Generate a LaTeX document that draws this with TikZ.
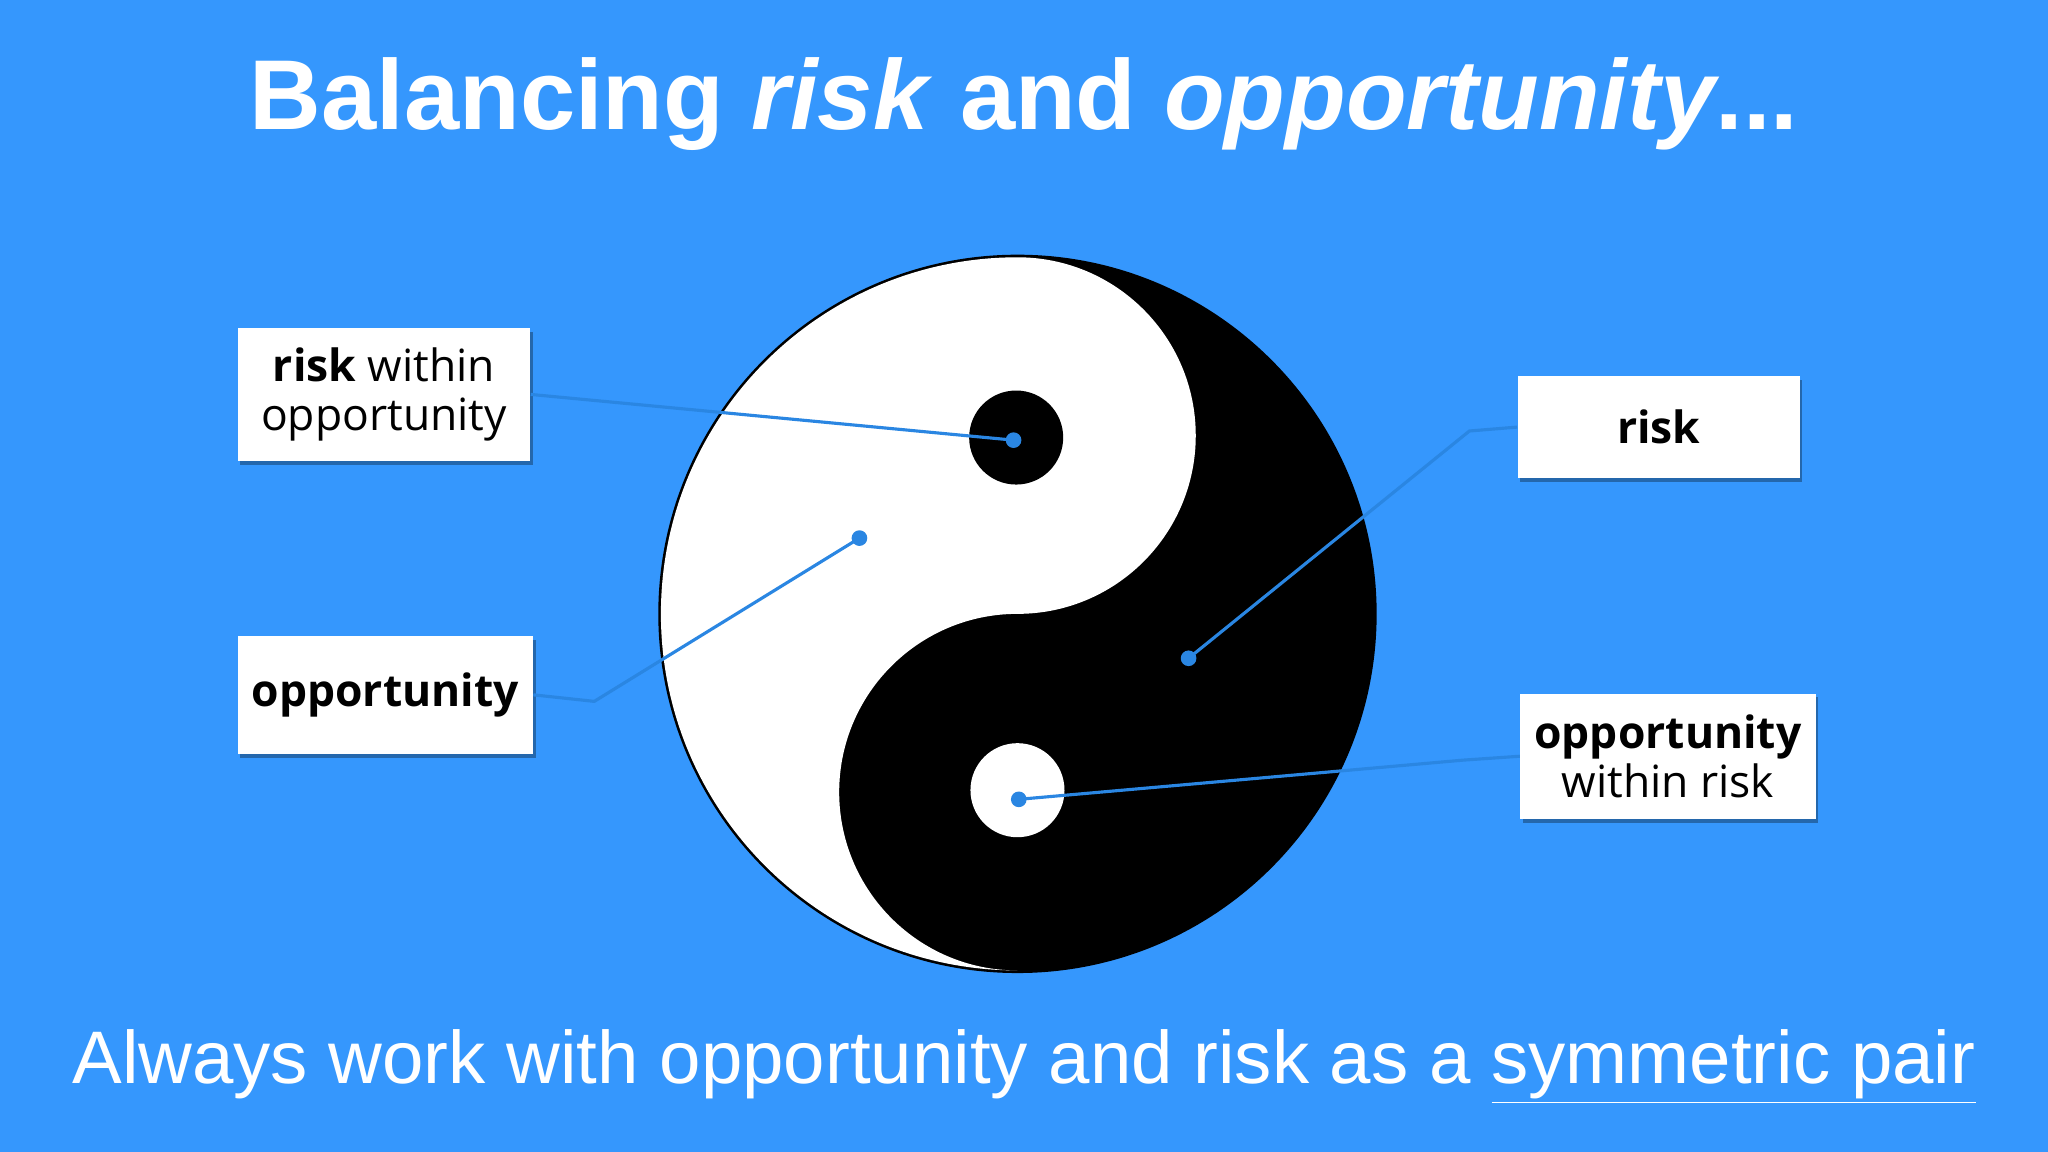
\documentclass[tikz,border=0pt]{standalone}
\usepackage{fontspec}
\usetikzlibrary{shadows}
\setmainfont{Liberation Sans}
\newfontfamily\boxfont{Open Sans}
\definecolor{bg}{HTML}{3597FD}
\definecolor{ln}{HTML}{2A86E2}
\begin{document}
\begin{tikzpicture}[x=0.5pt,y=0.5pt,
  lbl/.style={draw=none,fill=white,align=center,font=\boxfont\fontsize{17}{19}\selectfont,inner sep=0pt,
    drop shadow={shadow xshift=1pt,shadow yshift=-1.5pt,fill=black!40!bg,opacity=0.8}},
  conn/.style={ln,line width=1.2pt},
  pt/.style={circle,fill=ln,inner sep=0pt,minimum size=6pt}]
\fill[bg] (0,0) rectangle (1568,882);
\useasboundingbox (0,0) rectangle (1568,882);
% yin yang
\fill[black] (779,412) circle[radius=137.5pt];
\fill[white] (779,685) arc[start angle=90,end angle=270,radius=136.5pt]
  arc[start angle=270,end angle=90,radius=68.25pt]
  arc[start angle=-90,end angle=90,radius=68.25pt] -- cycle;
\fill[black] (778,547) circle[radius=18pt];
\fill[white] (779,277) circle[radius=18pt];
% labels
\node[lbl,minimum width=112pt,minimum height=51pt] (b1) at (294,580) {\textbf{risk} within\\opportunity};
\node[lbl,minimum width=113pt,minimum height=45pt] (b2) at (295,350) {\textbf{opportunity}};
\node[lbl,minimum width=108pt,minimum height=39pt] (b3) at (1270,555) {\textbf{risk}};
\node[lbl,minimum width=113pt,minimum height=48pt] (b4) at (1277,303) {\textbf{opportunity}\\within risk};
\coordinate (d1) at (776,545);
\coordinate (d2) at (658,470);
\coordinate (d3) at (910,378);
\coordinate (d4) at (780,270);
\draw[conn] (b1.east) -- (d1);
\draw[conn] (b2.east) -- (455,345) -- (d2);
\draw[conn] (b3.west) -- (1125,552) -- (d3);
\draw[conn] (b4.west) -- (1120,300) -- (d4);
\foreach \d in {d1,d2,d3,d4} \node[pt] at (\d) {};
% texts
\node[white,font=\fontsize{38}{44}\selectfont\bfseries] (title) at (784,802)
  {Balancing \textit{risk} and \textit{opportunity}...};
\node[white,font=\fontsize{28.5}{34}\selectfont] (foot) at (784,65)
  {Always work with opportunity and risk as a \underline{symmetric pair}};
\end{tikzpicture}
\end{document}
